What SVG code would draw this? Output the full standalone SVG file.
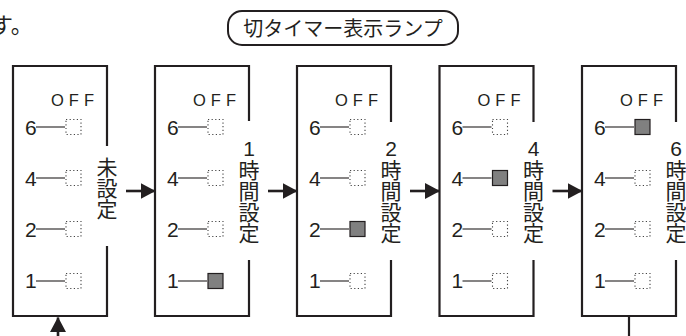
<svg xmlns="http://www.w3.org/2000/svg" width="686" height="336" viewBox="0 0 686 336">
<style>
.frame{fill:none;stroke:#231f20;stroke-width:2.2}
.lead{stroke:#231f20;stroke-width:1.1}
.off{fill:#fff;stroke:#444;stroke-width:1.1;stroke-dasharray:1.2 2.4}
.on{fill:#808080;stroke:#231f20;stroke-width:1.2}
.num{font-family:"Liberation Sans Narrow","Liberation Sans",Arial,sans-serif;font-size:21px;fill:#231f20}
.offt{font-family:"Liberation Sans",Arial,sans-serif;font-size:16.5px;letter-spacing:5px;fill:#231f20}
.vt{font-family:"Noto Sans CJK JP",sans-serif;font-size:21px;fill:#231f20;writing-mode:vertical-rl;text-orientation:upright}
.vd{font-family:"Liberation Sans Narrow","Liberation Sans",Arial,sans-serif}
.conn{stroke:#231f20;stroke-width:2.6;fill:none}
</style>
<defs>
<marker id="ah" markerWidth="15" markerHeight="16" refX="14.5" refY="8" orient="auto" markerUnits="userSpaceOnUse">
<path d="M0,0 L15,8 L0,16 Z" fill="#231f20"/>
</marker>
<g id="rows">
<text class="offt" x="38" y="106">OFF</text>
<text class="num" x="12" y="134.5">6</text>
<text class="num" x="12" y="185.5">4</text>
<text class="num" x="12" y="236.5">2</text>
<text class="num" x="12" y="288">1</text>
<line class="lead" x1="23" y1="127" x2="52" y2="127"/>
<line class="lead" x1="23" y1="178" x2="52" y2="178"/>
<line class="lead" x1="23" y1="229" x2="52" y2="229"/>
<line class="lead" x1="23" y1="281" x2="52" y2="281"/>
</g>
</defs>

<g id="header">
<text x="-9" y="33" style="font-family:'Noto Sans CJK JP',sans-serif;font-size:22px;fill:#231f20">す。</text>
<rect x="228" y="11" width="230" height="34" rx="14" ry="14" fill="none" stroke="#231f20" stroke-width="2"/>
<text x="343" y="35.5" style="font-family:'Noto Sans CJK JP',sans-serif;font-size:20px;fill:#231f20" text-anchor="middle">切タイマー表示ランプ</text>
</g>

<g id="state-unset" transform="translate(13,0)">
<path class="frame" d="M94,146 V66 H0 V316 H94 V246"/>
<use href="#rows"/>
<rect class="off" x="53" y="119.5" width="15" height="15"/>
<rect class="off" x="53" y="170.5" width="15" height="15"/>
<rect class="off" x="53" y="221.5" width="15" height="15"/>
<rect class="off" x="53" y="273.5" width="15" height="15"/>
<text class="vt" x="94" y="157">未設定</text>
</g>

<g id="state-1h" transform="translate(155,0)">
<path class="frame" d="M94,121 V66 H0 V316 H94 V260"/>
<use href="#rows"/>
<rect class="off" x="53" y="119.5" width="15" height="15"/>
<rect class="off" x="53" y="170.5" width="15" height="15"/>
<rect class="off" x="53" y="221.5" width="15" height="15"/>
<rect class="on" x="53" y="273.5" width="15" height="15"/>
<text class="vt" x="94" y="137"><tspan class="vd">1</tspan>時間設定</text>
</g>

<g id="state-2h" transform="translate(297,0)">
<path class="frame" d="M94,122 V66 H0 V316 H94 V260"/>
<use href="#rows"/>
<rect class="off" x="53" y="119.5" width="15" height="15"/>
<rect class="off" x="53" y="170.5" width="15" height="15"/>
<rect class="on" x="53" y="221.5" width="15" height="15"/>
<rect class="off" x="53" y="273.5" width="15" height="15"/>
<text class="vt" x="94" y="137"><tspan class="vd">2</tspan>時間設定</text>
</g>

<g id="state-4h" transform="translate(439.5,0)">
<path class="frame" d="M94,122 V66 H0 V316 H94 V260"/>
<use href="#rows"/>
<rect class="off" x="53" y="119.5" width="15" height="15"/>
<rect class="on" x="53" y="170.5" width="15" height="15"/>
<rect class="off" x="53" y="221.5" width="15" height="15"/>
<rect class="off" x="53" y="273.5" width="15" height="15"/>
<text class="vt" x="94" y="137"><tspan class="vd">4</tspan>時間設定</text>
</g>

<g id="state-6h" transform="translate(582,0)">
<path class="frame" d="M94,122 V66 H0 V316 H94 V260"/>
<use href="#rows"/>
<rect class="on" x="53" y="119.5" width="15" height="15"/>
<rect class="off" x="53" y="170.5" width="15" height="15"/>
<rect class="off" x="53" y="221.5" width="15" height="15"/>
<rect class="off" x="53" y="273.5" width="15" height="15"/>
<text class="vt" x="94" y="137"><tspan class="vd">6</tspan>時間設定</text>
</g>

<g id="connectors">
<line class="conn" x1="126" y1="191" x2="155" y2="191" marker-end="url(#ah)"/>
<line class="conn" x1="268" y1="191" x2="297" y2="191" marker-end="url(#ah)"/>
<line class="conn" x1="410" y1="191" x2="439.5" y2="191" marker-end="url(#ah)"/>
<line class="conn" x1="552.5" y1="191" x2="582" y2="191" marker-end="url(#ah)"/>
<line class="conn" x1="58" y1="340" x2="58" y2="317.5" marker-end="url(#ah)"/>
<line class="frame" x1="629" y1="316" x2="629" y2="340"/>
</g>
</svg>
